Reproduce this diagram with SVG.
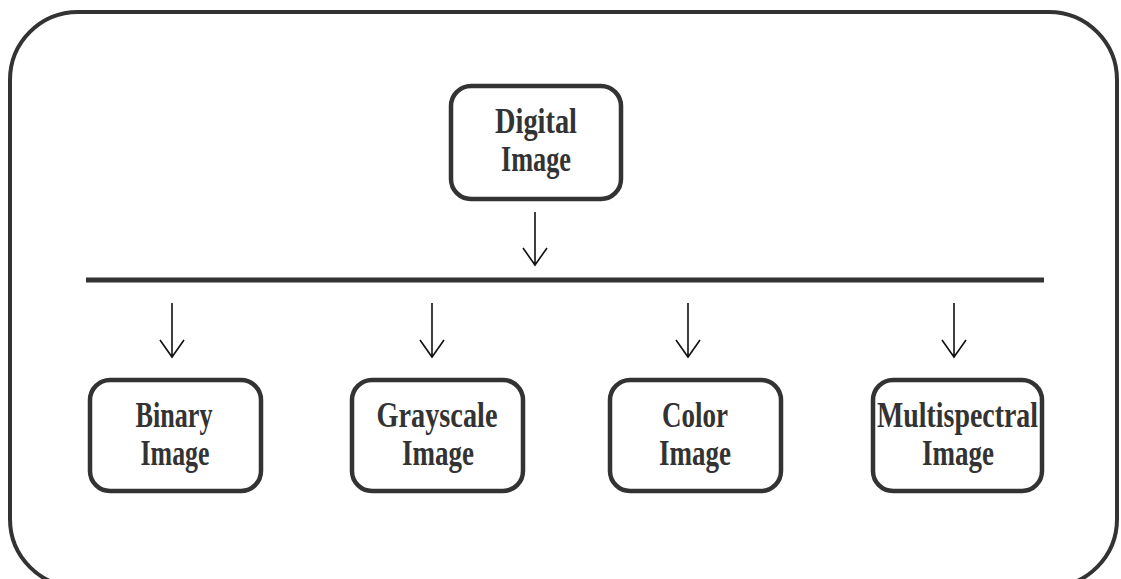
<svg xmlns="http://www.w3.org/2000/svg" width="1121" height="579" viewBox="0 0 1121 579">
  <defs>
    <style>
      .frame { fill: none; stroke: #333333; stroke-width: 4; }
      .box { fill: #ffffff; stroke: #333333; stroke-width: 4.5; }
      .label { font-family: "Liberation Serif", "Times New Roman", serif; font-weight: bold; font-size: 35px; fill: #333333; text-anchor: middle; }
      .bus { stroke: #333333; stroke-width: 5; fill: none; }
      .arrow { stroke: #111111; stroke-width: 1.6; fill: none; }
    </style>
  </defs>
  <rect width="1121" height="579" fill="#ffffff"/>

  <!-- outer frame -->
  <rect class="frame" x="10" y="12" width="1107" height="575" rx="68" ry="68"/>

  <!-- root node -->
  <g id="digital-image">
    <rect class="box" x="451" y="86" width="170" height="113" rx="20" ry="20"/>
    <text class="label" x="536" y="133" textLength="82" lengthAdjust="spacingAndGlyphs">Digital</text>
    <text class="label" x="536" y="171" textLength="70" lengthAdjust="spacingAndGlyphs">Image</text>
  </g>

  <!-- leaf nodes -->
  <g id="binary-image">
    <rect class="box" x="90" y="380" width="171" height="111" rx="20" ry="20"/>
    <text class="label" x="174" y="427" textLength="77" lengthAdjust="spacingAndGlyphs">Binary</text>
    <text class="label" x="175" y="465" textLength="69" lengthAdjust="spacingAndGlyphs">Image</text>
  </g>
  <g id="grayscale-image">
    <rect class="box" x="352" y="380" width="171" height="111" rx="20" ry="20"/>
    <text class="label" x="437" y="427" textLength="121" lengthAdjust="spacingAndGlyphs">Grayscale</text>
    <text class="label" x="438" y="465" textLength="72" lengthAdjust="spacingAndGlyphs">Image</text>
  </g>
  <g id="color-image">
    <rect class="box" x="610" y="380" width="171" height="111" rx="20" ry="20"/>
    <text class="label" x="695" y="427" textLength="66" lengthAdjust="spacingAndGlyphs">Color</text>
    <text class="label" x="695" y="465" textLength="72" lengthAdjust="spacingAndGlyphs">Image</text>
  </g>
  <g id="multispectral-image">
    <rect class="box" x="873" y="380" width="169" height="111" rx="20" ry="20"/>
    <text class="label" x="957.5" y="427" textLength="161" lengthAdjust="spacingAndGlyphs">Multispectral</text>
    <text class="label" x="958" y="465" textLength="72" lengthAdjust="spacingAndGlyphs">Image</text>
  </g>

  <!-- connectors -->
  <g id="connectors">
    <line class="bus" x1="86" y1="280" x2="1044" y2="280"/>
    <path class="arrow" d="M535 212 V265 M523 248 L535 265 L547 248"/>
    <path class="arrow" d="M172 303 V357 M160 340 L172 357 L184 340"/>
    <path class="arrow" d="M432 303 V357 M420 340 L432 357 L444 340"/>
    <path class="arrow" d="M688 303 V357 M676 340 L688 357 L700 340"/>
    <path class="arrow" d="M954 303 V357 M942 340 L954 357 L966 340"/>
  </g>
</svg>
